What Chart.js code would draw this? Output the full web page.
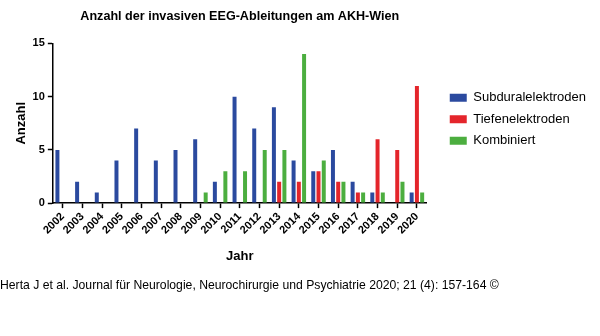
<!DOCTYPE html>
<html lang="de">
<head>
<meta charset="utf-8">
<title>Anzahl der invasiven EEG-Ableitungen am AKH-Wien</title>
<script src="https://cdn.jsdelivr.net/npm/chart.js@4.4.1/dist/chart.umd.min.js"></script>
<style>
  html, body { margin: 0; padding: 0; background: #fff; }
  #wrap { width: 600px; height: 336px; }
</style>
</head>
<body>
<div id="wrap"><canvas id="chart" width="600" height="336"></canvas></div>
<script>
// Jahre (Kategorien)
const years = ["2002", "2003", "2004", "2005", "2006", "2007", "2008", "2009", "2010", "2011",
               "2012", "2013", "2014", "2015", "2016", "2017", "2018", "2019", "2020"];

// Anzahl pro Jahr
const subdural  = [5, 2, 1, 4, 7, 4, 5, 6, 2, 10, 7, 9, 4, 3, 5, 2, 1, 0, 1];
const tiefen    = [0, 0, 0, 0, 0, 0, 0, 0, 0, 0, 0, 2, 2, 3, 2, 1, 6, 5, 11];
const kombiniert = [0, 0, 0, 0, 0, 0, 0, 1, 3, 3, 5, 5, 14, 4, 2, 1, 1, 2, 1];

const yTicks = [0, 5, 10, 15];

const FONT = "'Liberation Sans', Arial, Helvetica, sans-serif";

// Legende etwas nach oben schieben
const legendShift = {
    id: "legendShift",
    afterLayout: chart => {
        chart.legend.top -= 4;
        chart.legend.bottom -= 4;
    }
};

document.addEventListener("DOMContentLoaded", () => {
    const ctx = document.getElementById("chart").getContext("2d");

    new Chart(ctx, {
        type: "bar",
        data: {
            labels: years,
            datasets: [
                { label: "Subduralelektroden", data: subdural, backgroundColor: "#2b4a9f" },
                { label: "Tiefenelektroden", data: tiefen, backgroundColor: "#e4252b" },
                { label: "Kombiniert", data: kombiniert, backgroundColor: "#4cae3f" }
            ]
        },
        plugins: [legendShift],
        options: {
            responsive: false,
            animation: false,
            layout: { padding: { left: 0, right: 4, top: 0, bottom: 0 } },
            datasets: {
                bar: { categoryPercentage: 0.8, barPercentage: 0.76, borderWidth: 0 }
            },
            font: { family: FONT },
            scales: {
                x: {
                    grid: {
                        offset: false,
                        drawOnChartArea: false,
                        drawTicks: true,
                        tickLength: 5,
                        tickWidth: 1.5,
                        tickColor: "#000"
                    },
                    border: { color: "#000", width: 1.5 },
                    ticks: {
                        color: "#000",
                        font: { family: FONT, size: 11, weight: "bold" },
                        maxRotation: 45,
                        minRotation: 45,
                        padding: 2,
                        autoSkip: false
                    },
                    title: {
                        display: true,
                        text: "Jahr",
                        color: "#000",
                        font: { family: FONT, size: 13, weight: "bold" },
                        padding: { top: 10, bottom: 4 }
                    }
                },
                y: {
                    min: 0,
                    max: 15,
                    afterBuildTicks: scale => {
                        scale.ticks = yTicks.map(v => ({ value: v }));
                    },
                    grid: {
                        drawOnChartArea: false,
                        drawTicks: true,
                        tickLength: 5,
                        tickWidth: 1.5,
                        tickColor: "#000"
                    },
                    border: { color: "#000", width: 1.5 },
                    ticks: {
                        color: "#000",
                        font: { family: FONT, size: 11, weight: "bold" },
                        padding: 3
                    },
                    title: {
                        display: true,
                        text: "Anzahl",
                        color: "#000",
                        font: { family: FONT, size: 13, weight: "bold" },
                        padding: { top: 14, bottom: 0 }
                    }
                },
                // leere Achse rechts als Abstand zur Legende
                gap: {
                    type: "linear",
                    position: "right",
                    display: true,
                    grid: { display: false },
                    border: { display: false },
                    ticks: { display: false },
                    afterFit: scale => { scale.width = 14.5; }
                }
            },
            plugins: {
                title: {
                    display: true,
                    text: "Anzahl der invasiven EEG-Ableitungen am AKH-Wien",
                    color: "#000",
                    fullSize: false,
                    font: { family: FONT, size: 12.6, weight: "bold" },
                    padding: { top: 9.3, bottom: 19 }
                },
                subtitle: {
                    display: true,
                    position: "bottom",
                    align: "start",
                    text: "Herta J et al. Journal für Neurologie, Neurochirurgie und Psychiatrie 2020; 21 (4): 157-164 ©",
                    color: "#000",
                    font: { family: FONT, size: 12.2, weight: "normal" },
                    padding: { top: 10, bottom: 43 }
                },
                legend: {
                    position: "right",
                    align: "center",
                    fullSize: false,
                    maxWidth: 200,
                    labels: {
                        color: "#000",
                        boxWidth: 17,
                        boxHeight: 8,
                        padding: 8.5,
                        font: { family: FONT, size: 13 }
                    }
                },
                tooltip: { enabled: false }
            }
        }
    });
});
</script>
</body>
</html>
